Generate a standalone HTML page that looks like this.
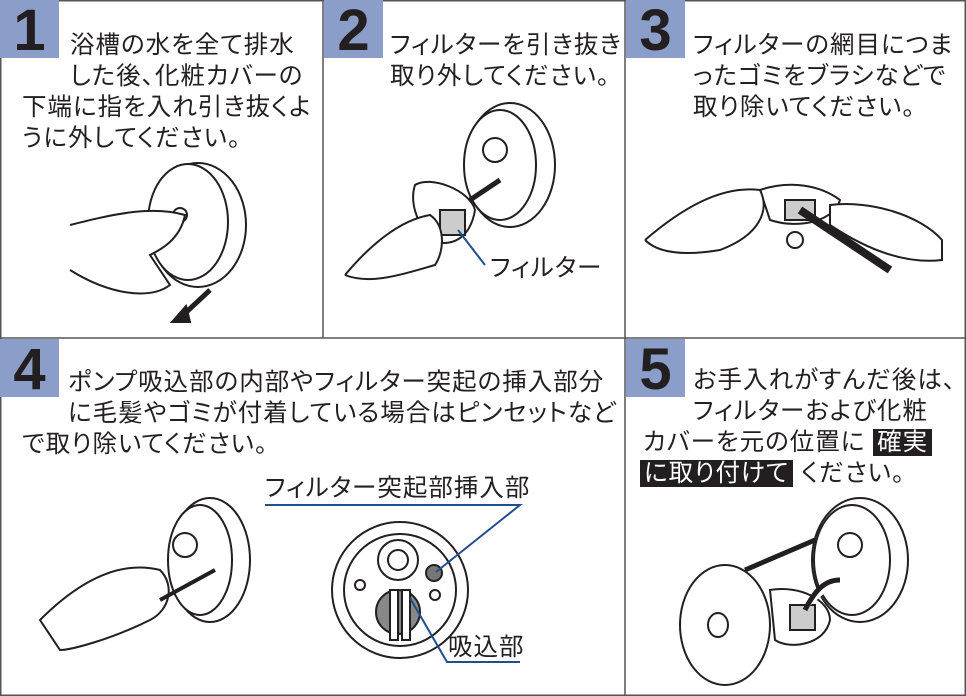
<!DOCTYPE html>
<html><head><meta charset="utf-8"><style>
html,body{margin:0;padding:0;background:#fff}
#w{position:relative;width:966px;height:696px;overflow:hidden;font-family:"Liberation Sans","Noto Sans CJK JP",sans-serif;color:#231f20}
.b{position:absolute;background:#8b9dc9;width:59px;height:58px;font:bold 58px/62px "Liberation Sans",sans-serif;color:#231f20;text-align:center}
.t{position:absolute;font-size:24.5px;line-height:31px;white-space:nowrap;letter-spacing:1px;font-feature-settings:"palt"}
.k{background:#231f20;color:#fff;padding:0 4px}
svg{position:absolute;left:0;top:0}
</style></head><body><div id="w">
<svg width="966" height="696" viewBox="0 0 966 696">
<g fill="none" stroke="#555" stroke-width="1.5">
<rect x="0.75" y="0.75" width="964.5" height="694.5"/>
<line x1="323" y1="0" x2="323" y2="338"/><line x1="625" y1="0" x2="625" y2="696"/><line x1="0" y1="338" x2="966" y2="338"/>
</g>
<g fill="#fff" stroke="#231f20" stroke-width="2">
<ellipse cx="198" cy="225" rx="48" ry="62"/><ellipse cx="188" cy="222" rx="40" ry="58"/>
<circle cx="180" cy="215" r="7"/>
<path d="M70 225 C110 215 150 205 185 215 C180 240 160 250 150 255 L170 285 C150 300 110 295 70 270"/>
<path d="M210 290 L180 318" stroke-width="5"/><path d="M172 322 L186 306 L190 322 Z" fill="#231f20"/>
<ellipse cx="510" cy="165" rx="45" ry="62"/><ellipse cx="500" cy="165" rx="36" ry="55"/><circle cx="495" cy="150" r="12"/>
<path d="M415 185 C430 175 470 190 475 210 C470 240 450 248 430 240 C415 220 410 200 415 185Z"/>
<rect x="440" y="210" width="25" height="25" fill="#ccc"/>
<path d="M345 275 C370 245 400 220 430 215 C445 225 445 250 435 265 C400 275 370 285 345 275"/>
<path d="M500 180 L470 200" stroke-width="5"/>
<line x1="458" y1="230" x2="485" y2="265" stroke="#1f4e8c"/>
<path d="M760 190 C790 180 820 185 840 200 C835 220 800 230 770 220Z"/><rect x="785" y="200" width="30" height="20" fill="#ccc"/>
<circle cx="795" cy="240" r="8"/>
<path d="M645 240 C680 210 720 185 760 190 C770 210 760 235 720 250 C690 255 660 255 645 240"/>
<path d="M800 210 L890 270" stroke-width="8"/>
<path d="M830 205 C870 200 920 215 942 240 L942 260 C900 265 860 245 830 225Z"/>
<ellipse cx="210" cy="560" rx="40" ry="62"/><ellipse cx="200" cy="560" rx="32" ry="55"/><circle cx="185" cy="545" r="12"/>
<path d="M40 620 C80 580 120 560 160 570 C175 585 170 610 150 620 C110 640 70 650 60 650Z"/>
<path d="M160 600 L215 570" stroke-width="4"/>
<circle cx="400" cy="590" r="68"/><circle cx="400" cy="590" r="56"/><circle cx="398" cy="560" r="20"/><circle cx="398" cy="560" r="10"/>
<circle cx="398" cy="612" r="22" fill="#888"/><rect x="390" y="590" width="8" height="50"/><rect x="402" y="590" width="8" height="50"/>
<circle cx="434" cy="573" r="8" fill="#777"/>
<circle cx="360" cy="585" r="5"/><circle cx="435" cy="595" r="5"/>
<ellipse cx="860" cy="560" rx="48" ry="62"/><ellipse cx="852" cy="560" rx="38" ry="55"/><circle cx="850" cy="545" r="12"/>
<ellipse cx="725" cy="625" rx="45" ry="60"/>
<path d="M770 590 C800 585 830 600 830 620 C825 645 790 650 775 640Z"/><rect x="790" y="605" width="25" height="25" fill="#ccc"/>
<ellipse cx="718" cy="625" rx="10" ry="12"/>
<path d="M745 570 L815 540" stroke-width="5"/><path d="M805 610 C815 590 825 580 840 580" stroke-width="5"/>
</g>
<g stroke="#1f4e8c" stroke-width="2" fill="none">
<polyline points="265,505 520,505 436,572"/>
<polyline points="410,598 447,662 520,662"/>
</g>
</svg>
<div class="b" style="left:0;top:0">1</div>
<div class="b" style="left:324px;top:0">2</div>
<div class="b" style="left:626px;top:0">3</div>
<div class="b" style="left:0;top:339px">4</div>
<div class="b" style="left:626px;top:339px">5</div>
<div class="t" style="left:70px;top:30px">浴槽の水を全て排水</div>
<div class="t" style="left:70px;top:61px">した後、化粧カバーの</div>
<div class="t" style="left:22px;top:92px">下端に指を入れ引き抜くよ</div>
<div class="t" style="left:22px;top:123px">うに外してください。</div>
<div class="t" style="left:390px;top:30px">フィルターを引き抜き</div>
<div class="t" style="left:390px;top:61px">取り外してください。</div>
<div class="t" style="left:693px;top:30px">フィルターの網目につま</div>
<div class="t" style="left:693px;top:61px">ったゴミをブラシなどで</div>
<div class="t" style="left:693px;top:92px">取り除いてください。</div>
<div class="t" style="left:490px;top:253px">フィルター</div>
<div class="t" style="left:68px;top:367px">ポンプ吸込部の内部やフィルター突起の挿入部分</div>
<div class="t" style="left:68px;top:398px">に毛髪やゴミが付着している場合はピンセットなど</div>
<div class="t" style="left:22px;top:429px">で取り除いてください。</div>
<div class="t" style="left:265px;top:473px">フィルター突起部挿入部</div>
<div class="t" style="left:448px;top:632px">吸込部</div>
<div class="t" style="left:693px;top:365px">お手入れがすんだ後は、</div>
<div class="t" style="left:693px;top:396px">フィルターおよび化粧</div>
<div class="t" style="left:643px;top:427px">カバーを元の位置に <span class="k">確実</span></div>
<div class="t" style="left:640px;top:458px"><span class="k">に取り付けて</span> ください。</div>
</div></body></html>
